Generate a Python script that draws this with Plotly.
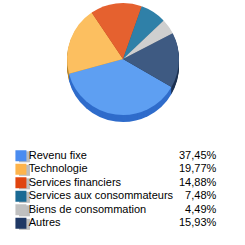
import plotly.graph_objects as go

categories = ["Revenu fixe", "Technologie", "Services financiers",
              "Services aux consommateurs", "Biens de consommation", "Autres"]
values = [37.45, 19.77, 14.88, 7.48, 4.49, 15.93]
pct_labels = ["37,45%", "19,77%", "14,88%", "7,48%", "4,49%", "15,93%"]

top_colors = ["#5E9FF2", "#FCBF60", "#E5612F", "#2F80A8", "#CFCFCF", "#3E5A82"]
side_colors = ["#2F6CCB", "#B8862C", "#A8401A", "#1B5577", "#9A9A9A", "#1C3150"]
legend_colors = ["#4A8CF0", "#FDB44C", "#E0440F", "#1A6A94", "#C0C0C0", "#1F3865"]

W = H = 245
cx, cy, r, depth = 123, 59, 56, 7

def dom_x(c, rad):
    return [(c - rad) / W, (c + rad) / W]

def dom_y(c, rad):
    return [1 - (c + rad) / H, 1 - (c - rad) / H]

fig = go.Figure()
# side (depth) layers
for k in range(depth, 0, -1):
    fig.add_trace(go.Pie(
        labels=categories, values=values, sort=False, direction="clockwise",
        rotation=120, marker=dict(colors=side_colors, line=dict(width=0)),
        textinfo="none", hoverinfo="skip", showlegend=False,
        domain=dict(x=dom_x(cx, r), y=dom_y(cy + k, r))))
# top face
fig.add_trace(go.Pie(
    labels=categories, values=values, sort=False, direction="clockwise",
    rotation=120, marker=dict(colors=top_colors, line=dict(width=0)),
    textinfo="none", showlegend=False,
    domain=dict(x=dom_x(cx, r), y=dom_y(cy, r))))

idx = list(range(len(categories)))
# legend squares shadow
fig.add_trace(go.Scatter(
    x=[0.6] * len(idx), y=[i + 0.08 for i in idx], mode="markers",
    marker=dict(symbol="square", size=11, color="#BDBDBD", line=dict(width=0)),
    xaxis="x", yaxis="y", showlegend=False, hoverinfo="skip"))
fig.add_trace(go.Scatter(
    x=[0] * len(idx), y=idx, mode="markers+text",
    marker=dict(symbol="square", size=11, color=legend_colors, line=dict(width=0)),
    text=categories, textposition="middle right",
    textfont=dict(family="Liberation Sans, Arial", size=11, color="#000000"),
    xaxis="x", yaxis="y", showlegend=False, hoverinfo="skip"))
fig.add_trace(go.Scatter(
    x=[33] * len(idx), y=idx, mode="text",
    text=pct_labels, textposition="middle left",
    textfont=dict(family="Liberation Sans, Arial", size=11, color="#000000"),
    xaxis="x", yaxis="y", showlegend=False, hoverinfo="skip"))

fig.update_layout(
    width=W, height=H, margin=dict(l=0, r=0, t=0, b=0),
    paper_bgcolor="white", plot_bgcolor="white",
    xaxis=dict(domain=[(21 - 6) / W, (218 + 6) / W], range=[-1.0, 34.3],
               visible=False, fixedrange=True),
    yaxis=dict(domain=[1 - 230 / H, 1 - 149 / H], range=[5.5, -0.5],
               visible=False, fixedrange=True),
)

fig.write_html("out.html")
